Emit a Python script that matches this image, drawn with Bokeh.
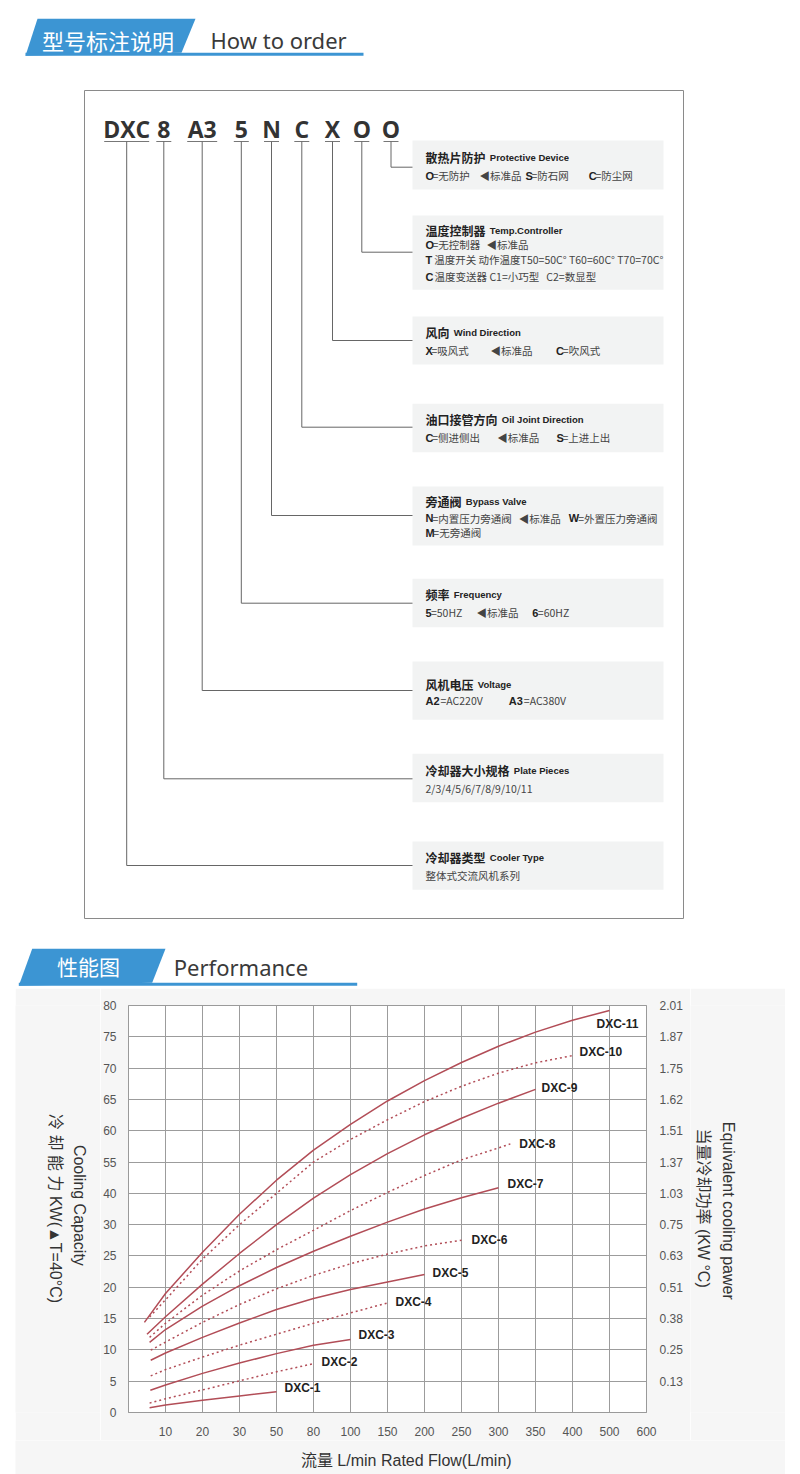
import numpy as np
from bokeh.plotting import figure
from bokeh.models import Range1d, FixedTicker, LinearAxis, Spacer
from bokeh.layouts import column, row
from bokeh.core.properties import value
from bokeh.embed import file_html
from bokeh.resources import INLINE

# ------------------------------------------------------------------ data: order code
CODE_PARTS = ["DXC", "8", "A3", "5", "N", "C", "X", "O", "O"]
TITLES_CN = ["散热片防护", "温度控制器", "风向", "油口接管方向", "旁通阀", "频率",
             "风机电压", "冷却器大小规格", "冷却器类型"]
TITLES_EN = ["Protective Device", "Temp.Controller", "Wind Direction", "Oil Joint Direction",
             "Bypass Valve", "Frequency", "Voltage", "Plate Pieces", "Cooler Type"]
NB = "\u00a0"
OPTIONS = [
    [[("O", "=无防护"), ("", "◀标准品"), ("S", "=防石网"), ("C", "=防尘网")]],
    [[("O", "=无控制器"), ("", "◀标准品")],
     [("T", NB + "温度开关 动作温度T50=50C° T60=60C° T70=70C°")],
     [("C", NB + "温度变送器 C1=小巧型" + NB * 3 + "C2=数显型")]],
    [[("X", "=吸风式"), ("", "◀标准品"), ("C", "=吹风式")]],
    [[("C", "=侧进侧出"), ("", "◀标准品"), ("S", "=上进上出")]],
    [[("N", "=内置压力旁通阀"), ("", "◀标准品"), ("W", "=外置压力旁通阀")],
     [("M", "=无旁通阀")]],
    [[("5", "=50HZ"), ("", "◀标准品"), ("6", "=60HZ")]],
    [[("A2", "=AC220V"), ("A3", "=AC380V")]],
    [[("", "2/3/4/5/6/7/8/9/10/11")]],
    [[("", "整体式交流风机系列")]],
]

# ------------------------------------------------------------------ data: performance chart
FLOW_TICKS = [0, 10, 20, 30, 50, 80, 100, 150, 200, 250, 300, 350, 400, 500, 600]
KW_TICKS = [0, 5, 10, 15, 20, 25, 30, 40, 55, 60, 65, 70, 75, 80]
POWER_LABELS = ["0.13", "0.25", "0.38", "0.51", "0.63", "0.75", "1.03",
                "1.37", "1.51", "1.62", "1.75", "1.87", "2.01"]
SERIES = ["DXC-1", "DXC-2", "DXC-3", "DXC-4", "DXC-5", "DXC-6",
          "DXC-7", "DXC-8", "DXC-9", "DXC-10", "DXC-11"]

FLOW_1 = [5.7, 10, 20, 30, 50]
KW_1 = [0.75, 1.2, 1.95, 2.65, 3.3]
FLOW_2 = [5.7, 10, 20, 30, 50, 80]
KW_2 = [1.5, 2.2, 3.6, 5.05, 6.5, 7.8]
FLOW_3 = [5.9, 10, 20, 30, 50, 80, 100]
KW_3 = [3.55, 4.4, 6.25, 7.9, 9.4, 10.75, 11.65]
FLOW_4 = [6, 10, 20, 30, 50, 80, 100, 150]
KW_4 = [5.85, 6.85, 8.85, 10.75, 12.5, 14.25, 15.9, 17.5]
FLOW_5 = [6, 10, 20, 30, 50, 80, 100, 150, 200]
KW_5 = [8.35, 9.5, 12.0, 14.3, 16.45, 18.2, 19.65, 20.85, 22.05]
FLOW_6 = [6, 10, 20, 30, 50, 80, 100, 150, 200, 250]
KW_6 = [9.95, 11.25, 14.4, 17.25, 19.75, 21.9, 23.75, 25.3, 26.6, 27.5]
FLOW_7 = [5.7, 10, 20, 30, 50, 80, 100, 150, 200, 250, 300]
KW_7 = [11.2, 13.25, 17.0, 20.25, 23.15, 25.75, 28.15, 30.8, 35.0, 38.6, 42.7]
FLOW_8 = [5.7, 10, 20, 30, 50, 80, 100, 150, 200, 250, 300, 316]
KW_8 = [12.0, 14.25, 18.75, 22.6, 26.0, 29.1, 34.5, 40.45, 48.55, 55.35, 57.25, 57.9]
FLOW_9 = [5, 10, 20, 30, 50, 80, 100, 150, 200, 250, 300, 350]
KW_9 = [12.5, 15.3, 20.5, 25.4, 30.0, 38.5, 49.0, 56.35, 59.35, 62.0, 64.4, 66.6]
FLOW_10 = [5.7, 10, 20, 30, 50, 80, 100, 150, 200, 250, 300, 350, 400]
KW_10 = [15.25, 18.0, 24.5, 30.0, 40.0, 55.0, 58.6, 61.75, 64.65, 67.1, 69.2, 70.85, 72.0]
FLOW_11 = [4.3, 10, 20, 30, 50, 80, 100, 150, 200, 250, 300, 350, 400, 500]
KW_11 = [14.4, 19.0, 25.6, 33.3, 46.3, 56.9, 61.0, 64.75, 68.0, 70.9, 73.5, 75.75, 77.65, 79.2]

FLOWS = [FLOW_1, FLOW_2, FLOW_3, FLOW_4, FLOW_5, FLOW_6, FLOW_7, FLOW_8, FLOW_9, FLOW_10, FLOW_11]
KWS = [KW_1, KW_2, KW_3, KW_4, KW_5, KW_6, KW_7, KW_8, KW_9, KW_10, KW_11]

Y_TITLE_CN = "冷 却 能 力  KW(▲T=40°C)"
Y_TITLE_EN = "Cooling Capacity"
Y2_TITLE_EN = "Equivalent cooling pawer"
Y2_TITLE_CN = "当量冷却功率 (KW °C)"
X_TITLE = "流量 L/min  Rated Flow(L/min)"

# ------------------------------------------------------------------ styles / layout
BLUE = "#3c95d3"
CJK = "Noto Sans CJK SC"
SANS = "Liberation Sans"
CURVE = "#b24d57"
GREY_BG = "#f6f6f6"

CODE_X = [126.2, 163.3, 201.7, 240.8, 271.0, 301.3, 332.0, 361.3, 390.5]
BOX_TOP = [140, 215, 316, 403.3, 486, 578.3, 661, 753.3, 841]
BOX_BOT = [189, 289.3, 364, 451.7, 545, 626.7, 719.3, 801.7, 889.3]
LINK_Y = [166.7, 251.7, 340, 426.7, 515, 602.7, 690, 778.3, 865]
TITLE_Y = [156.7, 230, 332.3, 419, 501, 594.3, 684.3, 770, 856.7]
LINE_Y = [[175], [244.3, 259.3, 276], [350], [437.3], [517.7, 532.3], [612.3], [700], [788.3], [875]]
SEG_X = [[[425, 479, 525, 588.3]],
         [[425, 486], [425], [425]],
         [[425, 490, 555.6]],
         [[425, 496.7, 556]],
         [[425, 518.3, 568.3], [425]],
         [[425, 476, 531.7]],
         [[425, 508.3]],
         [[425]],
         [[425]]]
KEY_W = {"O": 6.9, "S": 5.9, "C": 6.7, "X": 6.0, "N": 7.0, "M": 7.8, "T": 6.4,
         "W": 9.4, "5": 5.4, "6": 5.6, "A2": 15.0, "A3": 15.0, "": 0.0}
BOX_L, BOX_R = 412, 663


def canvas(width, height, x0, y0, bg="white"):
    """A figure whose data coordinates are page pixels (y downwards)."""
    f = figure(width=width, height=height, x_range=Range1d(x0, x0 + width),
               y_range=Range1d(y0 + height, y0), x_axis_type=None, y_axis_type=None,
               toolbar_location=None, output_backend="svg", min_border=0,
               outline_line_color=None)
    f.background_fill_color = bg
    f.border_fill_color = bg
    return f


# ================================================================== figure 1 (order code)
p1 = canvas(800, 988, 0, 0)

# header 1
p1.patch([37, 195, 181, 25], [18.3, 18.3, 52.3, 55.3], fill_color=BLUE, line_color=None)
p1.quad(left=[25], right=[363], top=[52.3], bottom=[55.3], fill_color=BLUE, line_color=None)
p1.text(x=[41.5], y=[39.5], text=["型号标注说明"], text_font=value(CJK),
        text_font_size=value("22px"), text_color="white", text_align="left",
        text_baseline="middle")
p1.text(x=[210], y=[39], text=["How to order"], text_font=value("Noto Sans"),
        text_font_size=value("22px"), text_color="#3a3a3a", text_align="left",
        text_baseline="middle")

# header 2
p1.patch([31.7, 165, 151.7, 18.3], [948.3, 948.3, 982.3, 985.3], fill_color=BLUE, line_color=None)
p1.quad(left=[18.3], right=[356.7], top=[982.3], bottom=[985.3], fill_color=BLUE, line_color=None)
p1.text(x=[56.5], y=[965], text=["性能图"], text_font=value(CJK),
        text_font_size=value("21px"), text_color="white", text_align="left",
        text_baseline="middle")
p1.text(x=[173.3], y=[966], text=["Performance"], text_font=value("Noto Sans"),
        text_font_size=value("22px"), text_color="#3a3a3a", text_align="left",
        text_baseline="middle")

# outer box
p1.quad(left=[84], right=[683], top=[90], bottom=[918], fill_color=None,
        line_color="#8a8a8a", line_width=1)

# code letters and underlines
p1.text(x=CODE_X, y=[128.5] * len(CODE_PARTS), text=CODE_PARTS,
        text_font=value("Open Sans"), text_font_style="bold", text_font_size=value("23px"),
        text_color="#333333", text_align="center", text_baseline="middle")
half = [7.5 * len(c) for c in CODE_PARTS]
p1.segment(x0=[c - h for c, h in zip(CODE_X, half)], x1=[c + h for c, h in zip(CODE_X, half)],
           y0=[141] * len(CODE_X), y1=[141] * len(CODE_X), line_color="#777777", line_width=1)

# grey boxes
p1.quad(left=[BOX_L] * 9, right=[BOX_R] * 9, top=BOX_TOP, bottom=BOX_BOT,
        fill_color="#f2f3f3", line_color=None)

# connectors
xs, ys = [], []
for i in range(9):
    j = len(CODE_PARTS) - 1 - i
    xs.append([CODE_X[j], CODE_X[j], BOX_L])
    ys.append([141, LINK_Y[i], LINK_Y[i]])
p1.multi_line(xs=xs, ys=ys, line_color="#666666", line_width=1)

# titles
en_x = [425 + 12 * len(t) + 4.3 for t in TITLES_CN]
p1.text(x=[425] * 9, y=TITLE_Y, text=TITLES_CN, text_font=value(CJK), text_font_style="bold",
        text_font_size=value("12px"), text_color="#222222", text_align="left",
        text_baseline="middle")
p1.text(x=en_x, y=TITLE_Y, text=TITLES_EN, text_font=value(SANS), text_font_style="bold",
        text_font_size=value("9.5px"), text_color="#222222", text_align="left",
        text_baseline="middle")

# option lines
kx, ky, kt, rx, ry, rt = [], [], [], [], [], []
for i, lines in enumerate(OPTIONS):
    for li, line in enumerate(lines):
        y = LINE_Y[i][li]
        for si, (key, rest) in enumerate(line):
            x0 = SEG_X[i][li][si]
            if key:
                kx.append(x0); ky.append(y); kt.append(key)
            rx.append(x0 + KEY_W[key]); ry.append(y); rt.append(rest)
p1.text(x=kx, y=ky, text=kt, text_font=value(SANS), text_font_style="bold",
        text_font_size=value("11px"), text_color="#222222", text_align="left",
        text_baseline="middle")
p1.text(x=rx, y=ry, text=rt, text_font=value(CJK), text_font_size=value("10.5px"),
        text_color="#444444", text_align="left", text_baseline="middle")

# ================================================================== figure 2 (performance)
p2 = figure(width=590, height=452, x_range=Range1d(0, 14), y_range=Range1d(0, 13),
            toolbar_location=None, output_backend="svg",
            min_border_left=27, min_border_right=44, min_border_top=17, min_border_bottom=28,
            background_fill_color="white", border_fill_color=GREY_BG,
            outline_line_color="#9a9a9a")

xi = list(range(len(FLOW_TICKS)))
yi = list(range(len(KW_TICKS)))

p2.xaxis.ticker = FixedTicker(ticks=xi[1:])
p2.xaxis.major_label_overrides = {i: str(FLOW_TICKS[i]) for i in xi[1:]}
p2.yaxis.ticker = FixedTicker(ticks=yi)
p2.yaxis.major_label_overrides = {i: str(KW_TICKS[i]) for i in yi}

rax = LinearAxis(ticker=FixedTicker(ticks=yi[1:]),
                 major_label_overrides={i: POWER_LABELS[i - 1] for i in yi[1:]})
p2.add_layout(rax, "right")

for ax in [p2.xaxis[0], p2.yaxis[0], rax]:
    ax.axis_line_color = "#9a9a9a"
    ax.major_tick_line_color = None
    ax.minor_tick_line_color = None
    ax.major_label_text_font = SANS
    ax.major_label_text_font_size = "12px"
    ax.major_label_text_color = "#555555"
p2.xaxis.major_label_standoff = 8
p2.yaxis[0].major_label_standoff = 6
rax.major_label_standoff = 7

p2.xgrid.ticker = FixedTicker(ticks=xi[1:-1])
p2.ygrid.ticker = FixedTicker(ticks=yi[1:-1])
p2.grid.grid_line_color = "#9c9c9c"
p2.grid.grid_line_width = 1

end_x, end_y = [], []
for k, (fl, kw) in enumerate(zip(FLOWS, KWS)):
    x = np.interp(fl, FLOW_TICKS, xi)
    y = np.interp(kw, KW_TICKS, yi)
    dash = "solid" if k % 2 == 0 else "2 3"
    p2.line(x, y, line_color=CURVE, line_width=1.5, line_dash=dash)
    end_x.append(float(x[-1]))
    end_y.append(float(y[-1]))

LABEL_DX = [8, 8, 8, 8, 8, 10, 9, 9, 6, 7, -13]
LABEL_DY = [-4, -2, -5, -1, -1, 0, -4, 0, -1, -4, 13]
p2.text(x=end_x, y=end_y, text=SERIES, x_offset=LABEL_DX, y_offset=LABEL_DY,
        text_font=value(SANS), text_font_style="bold", text_font_size=value("12px"),
        text_color="#222222", text_align="left", text_baseline="middle")

# ------------------------------------------------------------------ axis titles
TITLE_FONT = value("Liberation Sans, Noto Sans CJK SC")

pL = canvas(85, 452, 15, 988, GREY_BG)
pL.text(x=[55, 79], y=[1216, 1210], text=[Y_TITLE_CN, Y_TITLE_EN], angle=-np.pi / 2,
        text_font=TITLE_FONT, text_font_size=value("16px"), text_color="#333333",
        text_align="center", text_baseline="middle")

pR = canvas(95, 452, 690, 988, GREY_BG)
pR.text(x=[703, 728], y=[1213, 1216], text=[Y2_TITLE_CN, Y2_TITLE_EN], angle=-np.pi / 2,
        text_font=TITLE_FONT, text_font_size=value("16px"), text_color="#333333",
        text_align="center", text_baseline="middle")

pB = canvas(770, 34, 15, 1440, GREY_BG)
pB.text(x=[408], y=[1460], text=[X_TITLE], text_font=TITLE_FONT,
        text_font_size=value("16px"), text_color="#333333",
        text_align="center", text_baseline="middle")

layout = column(p1, row(Spacer(width=15, height=486), column(row(pL, p2, pR), pB)))
open("out.html", "w").write(file_html(layout, INLINE))
